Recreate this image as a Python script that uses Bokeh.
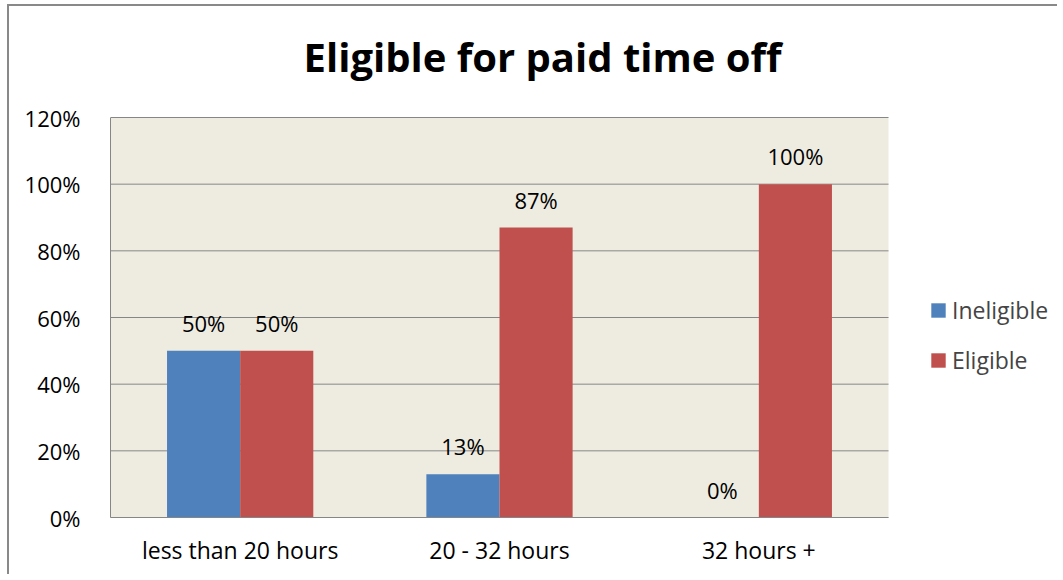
from bokeh.plotting import figure
from bokeh.models import (Range1d, ColumnDataSource, Legend, LegendItem,
                          PrintfTickFormatter, FixedTicker, BoxAnnotation, Label)
from bokeh.transform import dodge
from bokeh.core.properties import value
from bokeh.embed import file_html
from bokeh.resources import INLINE

categories = ["less than 20 hours", "20 - 32 hours", "32 hours +"]
ineligible = [50, 13, 0]
eligible = [50, 87, 100]
series_names = ["Ineligible", "Eligible"]
y_ticks = [0, 20, 40, 60, 80, 100, 120]
title_text = "Eligible for paid time off"

BLUE = "#4F81BD"
RED = "#C0504D"
GRID = "#868686"
BEIGE = "#EEECE1"
FONT = "Open Sans"

n = len(categories)
cat_pos = [i + 0.5 for i in range(n)]

src = ColumnDataSource(dict(
    pos=cat_pos,
    ineligible=ineligible,
    eligible=eligible,
    ineligible_lbl=[f"{v}%" for v in ineligible],
    eligible_lbl=[f"{v}%" for v in eligible],
))

W, H = 1050, 570
BL, BB = 101, 59
PLOT_W, PLOT_H = 778, 400   # pixel size of the beige category area
frame_w, frame_h = W - BL, H - BB
y_max = y_ticks[-1]

p = figure(x_range=Range1d(0, n * frame_w / PLOT_W),
           y_range=Range1d(y_ticks[0], y_max * frame_h / PLOT_H),
           width=W, height=H,
           output_backend="svg", toolbar_location=None,
           min_border_left=BL, min_border_right=0,
           min_border_top=0, min_border_bottom=BB)
p.styles = {"position": "absolute", "left": "7px", "top": "4px",
            "border-left": "2px solid #898989", "border-top": "2px solid #898989"}

p.background_fill_color = "white"
p.border_fill_color = "white"
p.outline_line_color = None

# beige plot area limited to the categories
p.add_layout(BoxAnnotation(left=0, right=n, bottom=y_ticks[0], top=y_max,
                           fill_color=BEIGE, fill_alpha=1, line_color=None,
                           level="image"))
# horizontal gridlines limited to the plot area
p.segment(x0=[0] * len(y_ticks), x1=[n] * len(y_ticks), y0=y_ticks, y1=y_ticks,
          line_color=GRID, line_width=1, level="underlay")

bw = 0.282
r1 = p.vbar(x=dodge("pos", -bw / 2), top="ineligible", width=bw,
            source=src, fill_color=BLUE, line_color=None)
r2 = p.vbar(x=dodge("pos", bw / 2), top="eligible", width=bw,
            source=src, fill_color=RED, line_color=None)

for col, off in (("ineligible_lbl", -bw / 2), ("eligible_lbl", bw / 2)):
    p.text(x=dodge("pos", off), y=col.replace("_lbl", ""), text=col, source=src,
           text_align="center", text_baseline="alphabetic", y_offset=-28,
           text_font=value(FONT), text_font_size="22px", text_color="black")

# title
p.add_layout(Label(x=1.666, y=138.4, text=title_text, text_align="center",
                   text_baseline="alphabetic", text_font=FONT,
                   text_font_style="bold", text_font_size="40px",
                   text_color="black"))

# axes
p.xaxis.ticker = FixedTicker(ticks=cat_pos)
p.xaxis.major_label_overrides = {pos: c for pos, c in zip(cat_pos, categories)}
p.xaxis.bounds = (0, n)
p.xaxis.axis_line_color = GRID
p.xaxis.major_tick_line_color = None
p.xaxis.minor_tick_line_color = None
p.xaxis.major_label_text_font = FONT
p.xaxis.major_label_text_font_size = "23px"
p.xaxis.major_label_text_color = "black"
p.xaxis.major_label_standoff = 10

p.yaxis.ticker = FixedTicker(ticks=y_ticks)
p.yaxis.bounds = (y_ticks[0], y_max)
p.yaxis.formatter = PrintfTickFormatter(format="%d%%")
p.yaxis.axis_line_color = GRID
p.yaxis.major_tick_line_color = None
p.yaxis.minor_tick_line_color = None
p.yaxis.major_label_text_font = FONT
p.yaxis.major_label_text_font_size = "22px"
p.yaxis.major_label_text_color = "black"
p.yaxis.major_label_standoff = 24

p.xgrid.grid_line_color = None
p.ygrid.grid_line_color = None

legend = Legend(items=[LegendItem(label=series_names[0], renderers=[r1]),
                       LegendItem(label=series_names[1], renderers=[r2])],
                location=(819, 141), orientation="vertical",
                label_text_font=FONT, label_text_font_size="23px",
                glyph_width=18, glyph_height=18, label_standoff=5,
                spacing=18, padding=0, margin=0,
                border_line_color=None, background_fill_alpha=0)
p.add_layout(legend, "center")

open("out.html", "w").write(file_html(p, INLINE))
